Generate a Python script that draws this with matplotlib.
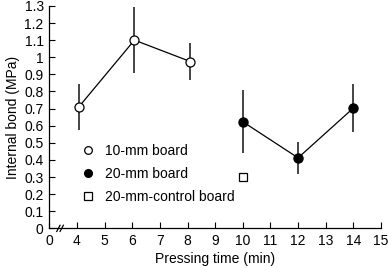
import matplotlib
matplotlib.use("Agg")
import matplotlib.pyplot as plt

plt.rcParams['font.family'] = ['Liberation Sans', 'DejaVu Sans']

# Data
t10 = [4.07, 6.08, 8.1]
ib10 = [0.71, 1.10, 0.975]
err10 = [0.135, 0.195, 0.11]

t20 = [10, 12, 14]
ib20 = [0.623, 0.412, 0.703]
err20 = [0.185, 0.095, 0.14]

tctrl = [10]
ibctrl = [0.30]
errctrl = [0.01]

xtick_pos = [3, 4, 5, 6, 7, 8, 9, 10, 11, 12, 13, 14, 15]
xtick_lab = ['0', '4', '5', '6', '7', '8', '9', '10', '11', '12', '13', '14', '15']
ytick_pos = [0, 0.1, 0.2, 0.3, 0.4, 0.5, 0.6, 0.7, 0.8, 0.9, 1.0, 1.1, 1.2, 1.3]
ytick_lab = ['0', '0.1', '0.2', '0.3', '0.4', '0.5', '0.6', '0.7', '0.8', '0.9', '1', '1.1', '1.2', '1.3']

fig = plt.figure(figsize=(3.88, 2.68), dpi=100)
ax = fig.add_axes([0.127, 0.148, 0.855, 0.83])

ecol = '#444444'
ax.errorbar(t10, ib10, yerr=err10, fmt='none', ecolor=ecol, elinewidth=1.4, capsize=0, zorder=2)
ax.errorbar(t20, ib20, yerr=err20, fmt='none', ecolor=ecol, elinewidth=1.4, capsize=0, zorder=2)
ax.errorbar(tctrl, ibctrl, yerr=errctrl, fmt='none', ecolor=ecol, elinewidth=1.0, capsize=0, zorder=2)

ax.plot(t10, ib10, '-', color='black', lw=0.9, zorder=3)
ax.plot(t20, ib20, '-', color='black', lw=0.9, zorder=3)
ax.plot(t10, ib10, 'o', mfc='white', mec='black', mew=0.9, ms=6.5, zorder=4, label='10-mm board')
ax.plot(t20, ib20, 'o', mfc='black', mec='black', ms=6.5, zorder=4, label='20-mm board')
ax.plot(tctrl, ibctrl, 's', mfc='white', mec='black', mew=0.9, ms=6, zorder=4, label='20-mm-control board')

ax.set_xlim(3, 15)
ax.set_ylim(0, 1.3)
ax.set_xticks(xtick_pos)
ax.set_xticklabels(xtick_lab)
ax.set_yticks(ytick_pos)
ax.set_yticklabels(ytick_lab)
ax.tick_params(direction='in', length=4, width=0.8, labelsize=10, pad=4)
for s in ['top', 'right']:
    ax.spines[s].set_visible(False)
for s in ['left', 'bottom']:
    ax.spines[s].set_linewidth(0.9)

# axis break marks
for xb in [3.33, 3.45]:
    ax.plot([xb - 0.06, xb + 0.06], [-0.018, 0.018], color='black', lw=0.9,
            clip_on=False, transform=ax.transData, zorder=5)

ax.set_xlabel('Pressing time (min)', fontsize=10, labelpad=3)
ax.set_ylabel('Internal bond (MPa)', fontsize=10, labelpad=3)

ax.legend(loc='lower left', bbox_to_anchor=(0.08, 0.085), frameon=False, fontsize=10,
          handlelength=1.0, handletextpad=0.7, labelspacing=0.65, borderaxespad=0,
          markerscale=0.85)

fig.savefig('out.png', dpi=100)
